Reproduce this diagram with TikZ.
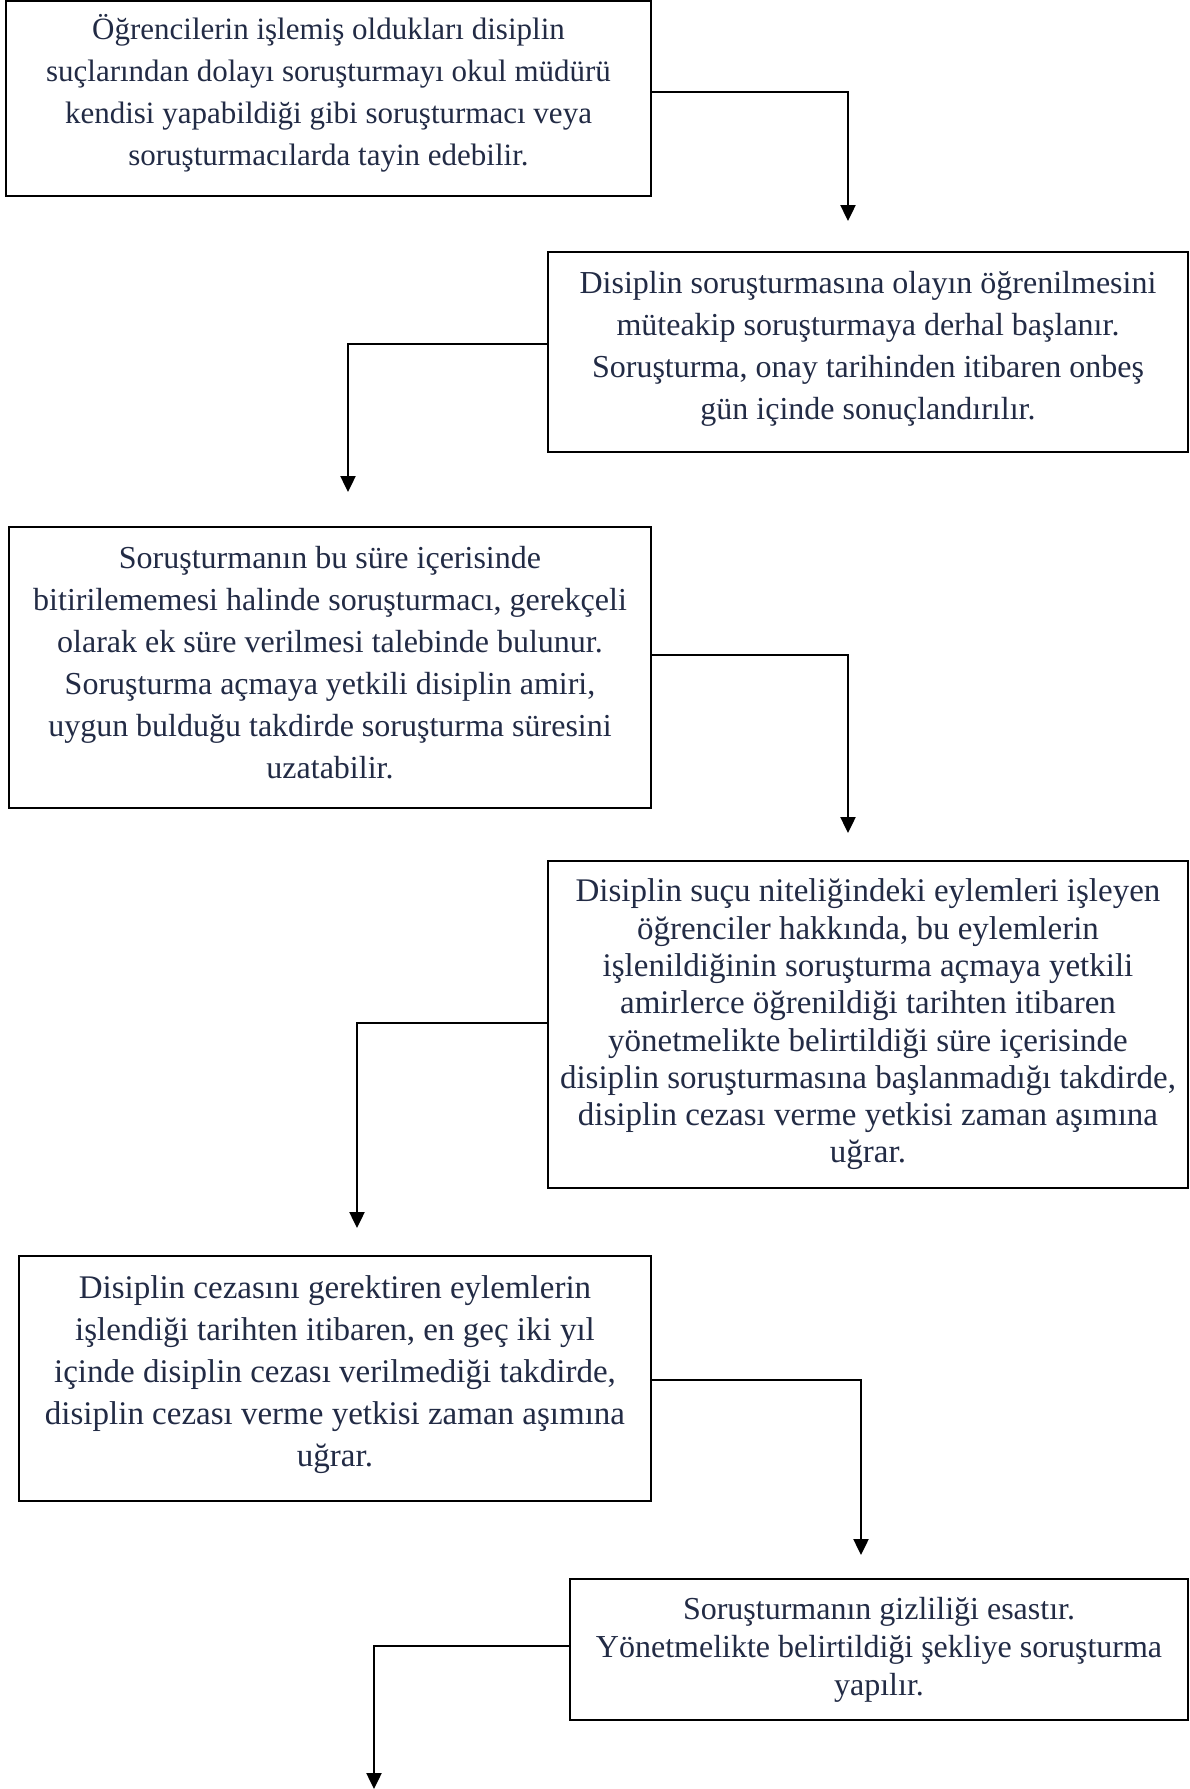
\documentclass[tikz,border=0pt]{standalone}
\usepackage{fontspec}
\setmainfont{Liberation Serif}
\usetikzlibrary{arrows.meta}
\definecolor{txt}{HTML}{222B45}
\begin{document}
\begin{tikzpicture}[x=1pt,y=-1pt,
  frame/.style={draw=black, line width=2.4pt, fill=white, inner sep=0pt},
  label/.style={inner sep=0pt, align=center, text=txt},
  arr/.style={draw=black, line width=2.4pt, -{Triangle[length=16pt,width=15pt]}}]
\useasboundingbox (0,0) rectangle (1190,1789);
\fill[white] (0,0) rectangle (1190,1789);

\node[frame, minimum width=645pt, minimum height=195pt] (b1) at (328.5,98.5) {};
\node[label, font=\fontsize{31}{42}\selectfont] (b1t) at ([yshift=5.5pt]b1.center)
 {Öğrencilerin işlemiş oldukları disiplin\\
  suçlarından dolayı soruşturmayı okul müdürü\\
  kendisi yapabildiği gibi soruşturmacı veya\\
  soruşturmacılarda tayin edebilir.};

\node[frame, minimum width=640pt, minimum height=200pt] (b2) at (868,352) {};
\node[label, font=\fontsize{32}{42}\selectfont] (b2t) at ([yshift=3.5pt]b2.center)
 {Disiplin soruşturmasına olayın öğrenilmesini\\
  müteakip soruşturmaya derhal başlanır.\\
  Soruşturma, onay tarihinden itibaren onbeş\\
  gün içinde sonuçlandırılır.};

\node[frame, minimum width=642pt, minimum height=281pt] (b3) at (330,667.5) {};
\node[label, font=\fontsize{32}{42}\selectfont] (b3t) at ([yshift=5pt]b3.center)
 {Soruşturmanın bu süre içerisinde\\
  bitirilememesi halinde soruşturmacı, gerekçeli\\
  olarak ek süre verilmesi talebinde bulunur.\\
  Soruşturma açmaya yetkili disiplin amiri,\\
  uygun bulduğu takdirde soruşturma süresini\\
  uzatabilir.};

\node[frame, minimum width=640pt, minimum height=327pt] (b4) at (868,1024.5) {};
\node[label, font=\fontsize{33}{37.3}\selectfont] (b4t) at (b4.center)
 {Disiplin suçu niteliğindeki eylemleri işleyen\\
  öğrenciler hakkında, bu eylemlerin\\
  işlenildiğinin soruşturma açmaya yetkili\\
  amirlerce öğrenildiği tarihten itibaren\\
  yönetmelikte belirtildiği süre içerisinde\\
  disiplin soruşturmasına başlanmadığı takdirde,\\
  disiplin cezası verme yetkisi zaman aşımına\\
  uğrar.};

\node[frame, minimum width=632pt, minimum height=245pt] (b5) at (335,1378.5) {};
\node[label, font=\fontsize{33}{42}\selectfont] (b5t) at ([yshift=4pt]b5.center)
 {Disiplin cezasını gerektiren eylemlerin\\
  işlendiği tarihten itibaren, en geç iki yıl\\
  içinde disiplin cezası verilmediği takdirde,\\
  disiplin cezası verme yetkisi zaman aşımına\\
  uğrar.};

\node[frame, minimum width=618pt, minimum height=141pt] (b6) at (879,1649.5) {};
\node[label, font=\fontsize{32}{38}\selectfont] (b6t) at (b6.center)
 {Soruşturmanın gizliliği esastır.\\
  Yönetmelikte belirtildiği şekliye soruşturma\\
  yapılır.};

\coordinate (t1) at (848,221);
\coordinate (t2) at (348,492);
\coordinate (t3) at (848,833);
\coordinate (t4) at (357,1228);
\coordinate (t5) at (861,1555);
\coordinate (t6) at (374,1789);

\draw[arr] ([yshift=6.5pt]b1.east) -| (t1);
\draw[arr] ([yshift=8pt]b2.west) -| (t2);
\draw[arr] ([yshift=12.5pt]b3.east) -| (t3);
\draw[arr] ([yshift=1.5pt]b4.west) -| (t4);
\draw[arr] ([yshift=-1.5pt]b5.east) -| (t5);
\draw[arr] ([yshift=3.5pt]b6.west) -| (t6);
\end{tikzpicture}
\end{document}
